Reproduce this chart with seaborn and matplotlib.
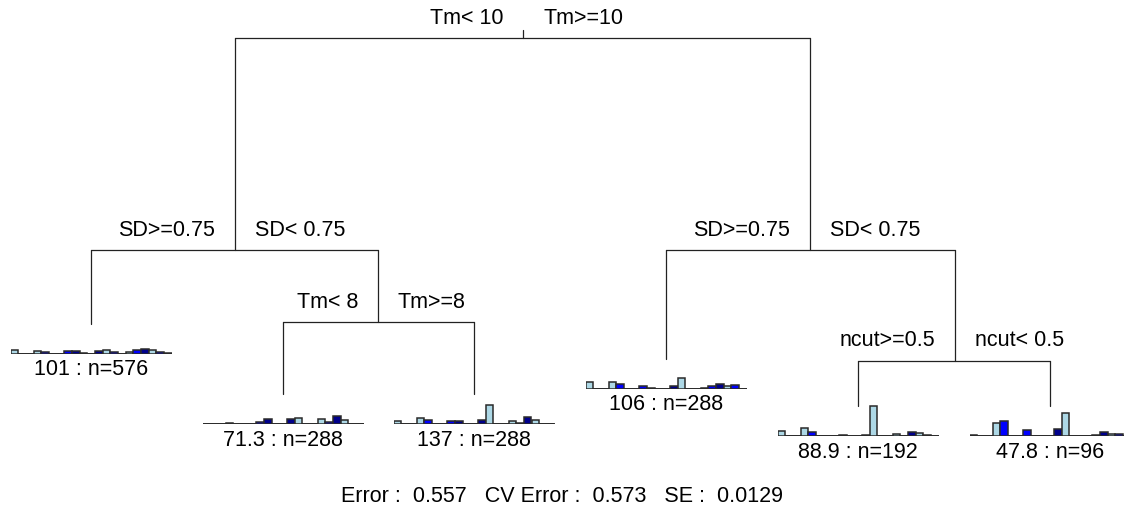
import matplotlib
matplotlib.use("Agg")
import matplotlib.pyplot as plt
import seaborn as sns
import pandas as pd

# ---------------- data ----------------
species = [f"sp{i + 1}" for i in range(21)]

leaf_101 = [3.3, 0, 0, 2.3, 1.3, 0, 0, 3.0, 2.7, 0.7, 0, 2.3, 3.7, 2.0, 0, 2.0, 3.7, 4.7, 3.3, 1.7, 1.0]
leaf_71 = [0, 0, 0, 1.3, 0, 0, 0, 2.0, 5.3, 0, 0, 4.7, 6.0, 0, 0, 4.7, 1.7, 7.7, 4.0, 0, 0]
leaf_137 = [2.7, 0, 0, 5.7, 4.0, 0, 0, 2.7, 3.0, 0, 0, 4.3, 19.0, 0, 0, 2.7, 1.3, 6.7, 3.7, 0.3, 0]
leaf_106 = [6.7, 0, 0, 6.7, 4.7, 0, 0, 3.3, 1.3, 0, 0, 2.7, 11.3, 0.3, 0, 1.3, 2.7, 4.7, 3.3, 4.0, 0.3]
leaf_889 = [5.3, 0, 0, 8.3, 4.3, 0, 0, 0, 1.0, 0, 0, 1.0, 30.0, 0, 0, 1.7, 0, 3.7, 2.7, 0.7, 0]
leaf_478 = [1.3, 0, 0, 12.7, 15.3, 0, 0, 5.7, 0, 0, 0, 6.7, 22.7, 0, 0, 0, 1.0, 3.7, 1.7, 2.0, 0]

leaf_means = ["101", "71.3", "137", "106", "88.9", "47.8"]
leaf_n = [576, 288, 288, 288, 192, 96]
leaf_values = [leaf_101, leaf_71, leaf_137, leaf_106, leaf_889, leaf_478]

split_left = ["Tm< 10", "SD>=0.75", "Tm< 8", "SD>=0.75", "ncut>=0.5"]
split_right = ["Tm>=10", "SD< 0.75", "Tm>=8", "SD< 0.75", "ncut< 0.5"]

error, cv_error, se = "0.557", "0.573", "0.0129"

# ---------------- layout (pixels) ----------------
W, H = 1124, 516
# split nodes: (x, y_top, y_line, x_left_child, x_right_child)
nodes = [
    (523, 30, 38, 235, 810),
    (235, 38, 250, 91, 378),
    (378, 250, 322, 283, 474),
    (810, 38, 250, 666, 955),
    (955, 250, 361, 858, 1050),
]
# leaves: (x, y_parent_line, y_baseline)
leaves = [
    (91, 250, 353.5),
    (283, 322, 424),
    (474, 322, 424),
    (666, 250, 389),
    (858, 361, 436),
    (1050, 361, 436),
]
leaf_w = 161
bar_h = 30
palette_cycle = ["#ADD8E6", "#0000FF", "#00008B"]
FS = 15.5

sns.set_theme(style="white")
plt.rcParams["font.family"] = ["Liberation Sans", "DejaVu Sans"]

fig = plt.figure(figsize=(W / 100, H / 100), dpi=100)
ax = fig.add_axes([0, 0, 1, 1])
ax.set_xlim(0, W)
ax.set_ylim(H, 0)
ax.axis("off")

lc = "#222222"
lw = 0.9
for (x, yt, yl, xl, xr), tl, tr in zip(nodes, split_left, split_right):
    ax.plot([x, x], [yt, yl], color=lc, lw=lw)
    ax.plot([xl, xr], [yl, yl], color=lc, lw=lw)
    ax.text(x - 20, yl - 20, tl, ha="right", va="center", fontsize=FS, color="black")
    ax.text(x + 20, yl - 20, tr, ha="left", va="center", fontsize=FS, color="black")

for (x, yp, yb), m, n, vals in zip(leaves, leaf_means, leaf_n, leaf_values):
    ax.plot([x, x], [yp, yb - bar_h], color=lc, lw=lw)
    ax.text(x, yb + 16, f"{m} : n={n}", ha="center", va="center", fontsize=FS, color="black")
    iax = fig.add_axes([(x - leaf_w / 2) / W, 1 - yb / H, leaf_w / W, (bar_h + 2) / H])
    df = pd.DataFrame({"species": species, "value": vals})
    pal = {s: palette_cycle[i % 3] for i, s in enumerate(species)}
    sns.barplot(data=df, x="species", y="value", hue="species", palette=pal,
                width=1.0, edgecolor="#2a2a2a", linewidth=1.1, legend=False,
                ax=iax, saturation=1)
    iax.axhline(0, color="#333333", lw=1.4, zorder=0)
    iax.set_xlim(-0.5, len(species) - 0.5)
    iax.set_ylim(0, bar_h + 2)
    iax.axis("off")

ax.text(W / 2, 496, f"Error :  {error}   CV Error :  {cv_error}   SE :  {se}",
        ha="center", va="center", fontsize=FS, color="black")

fig.savefig("out.png", dpi=100)
